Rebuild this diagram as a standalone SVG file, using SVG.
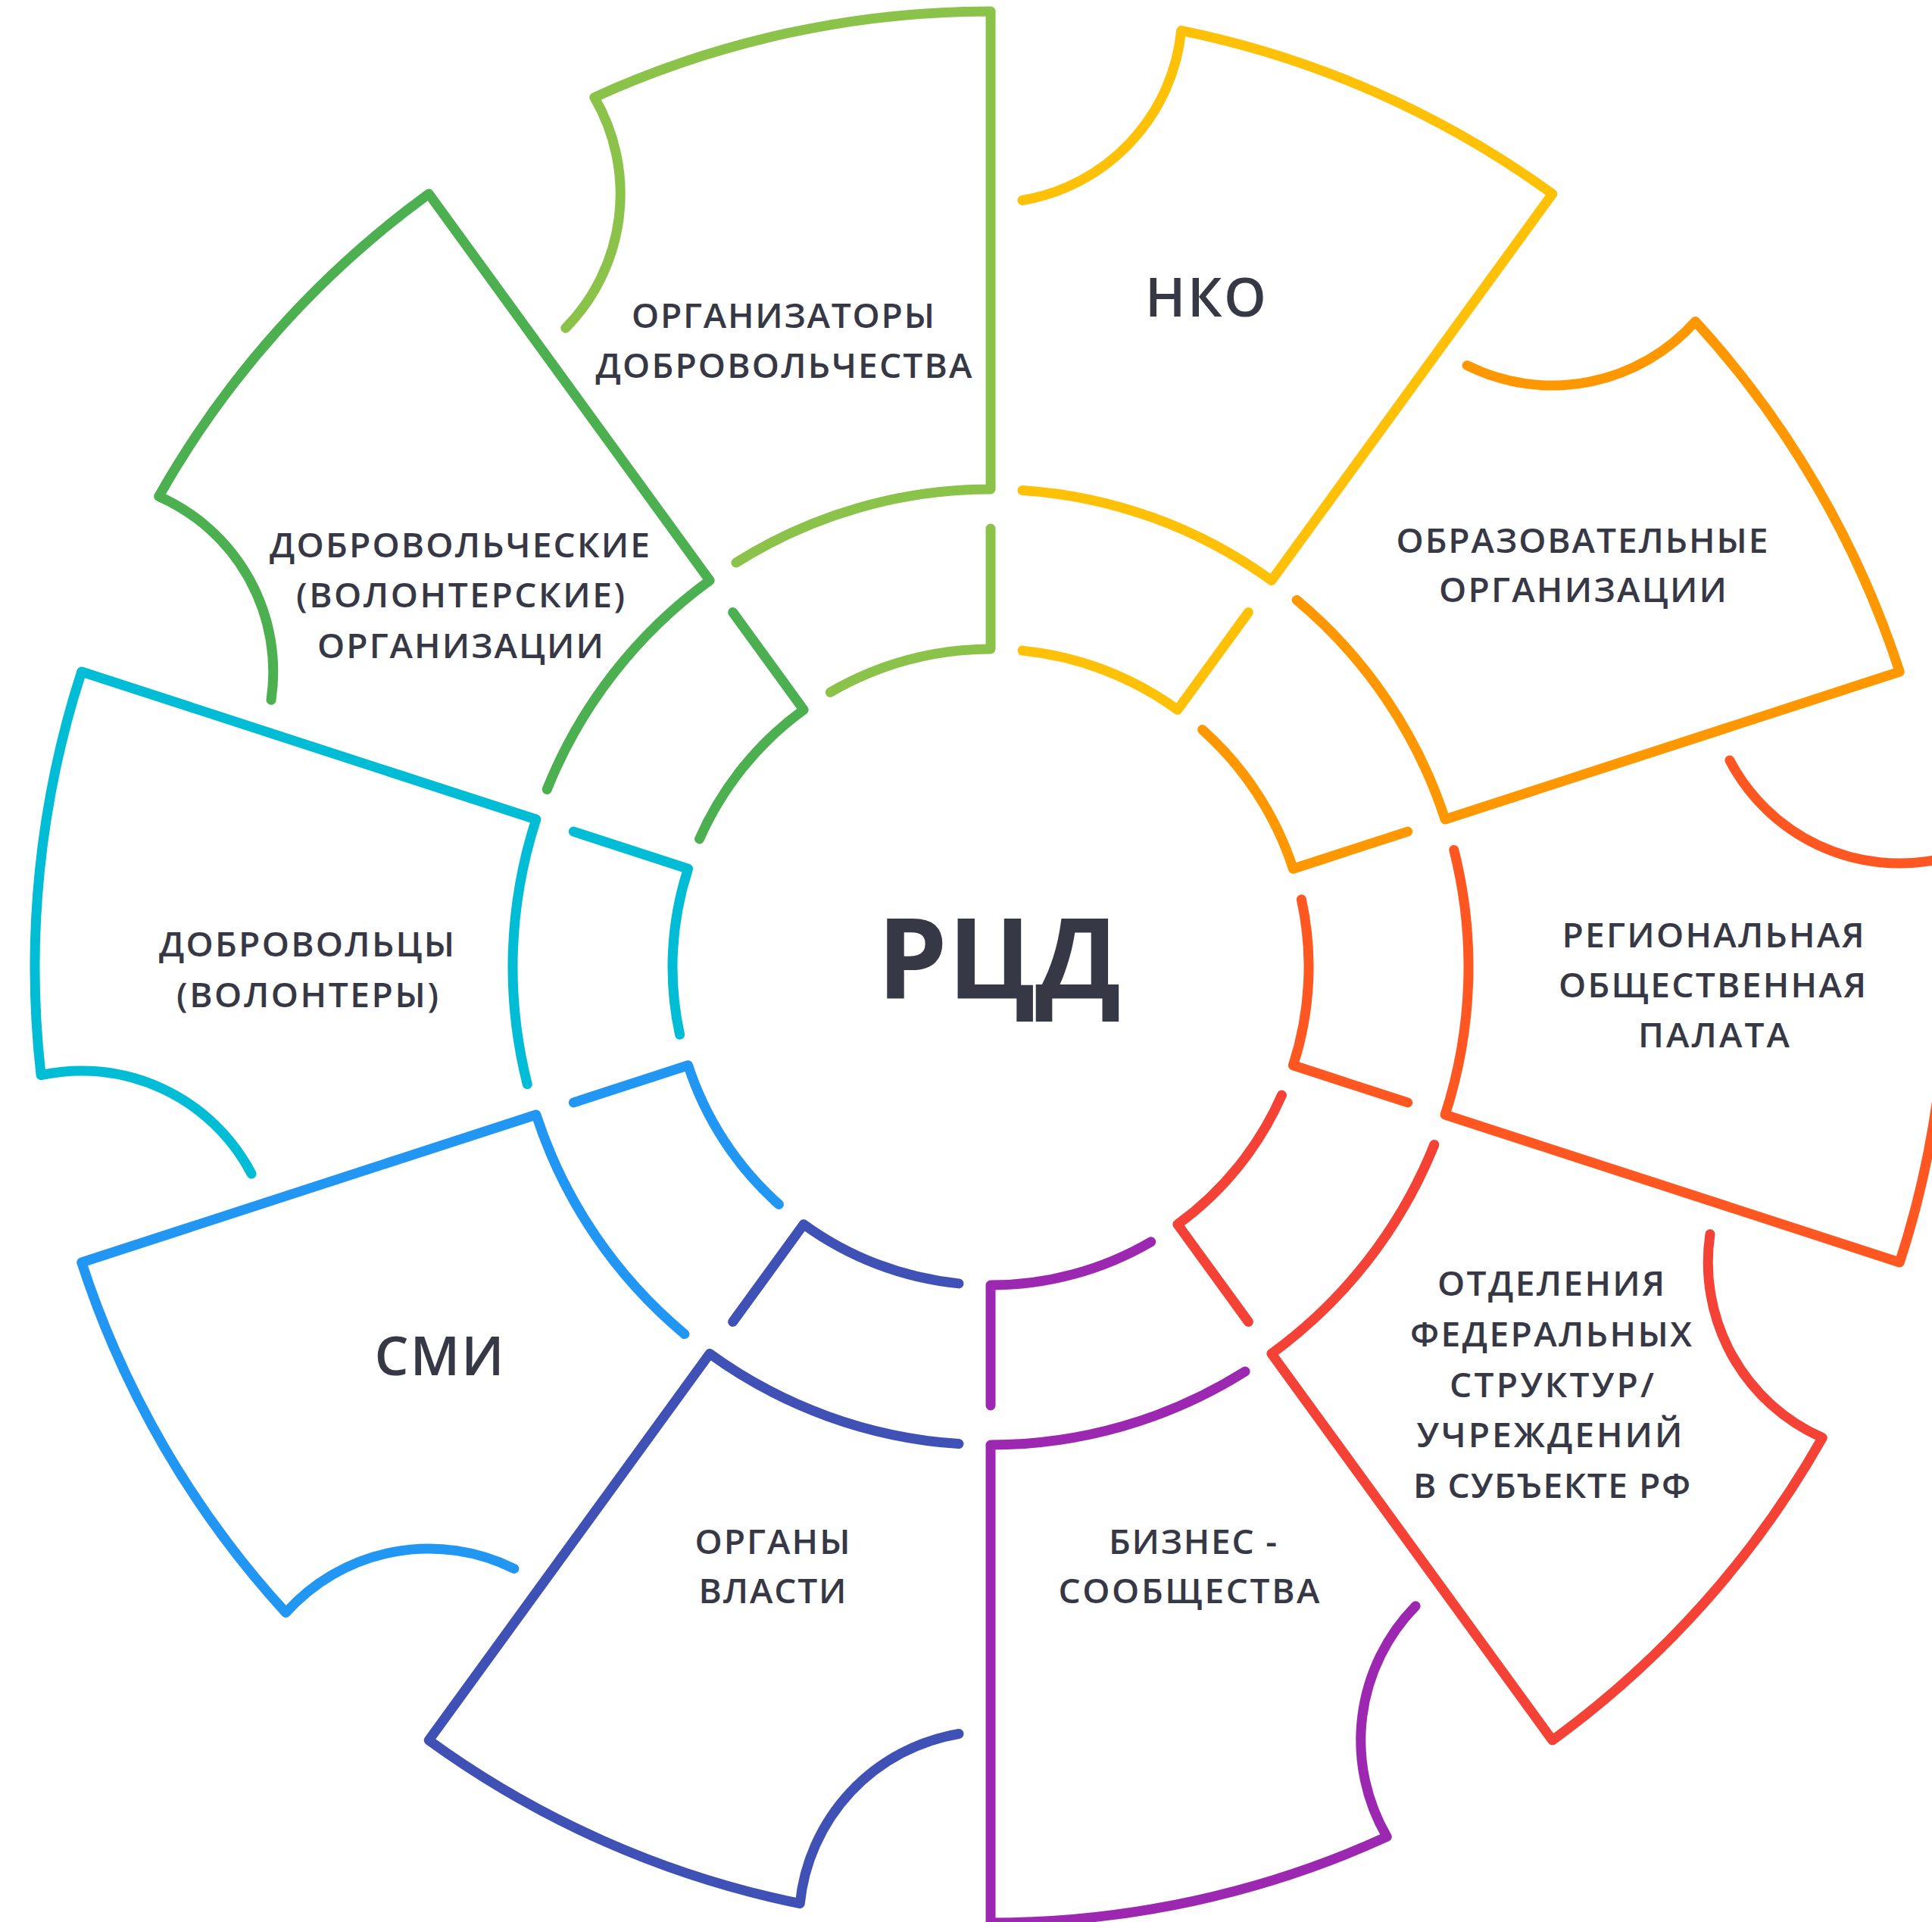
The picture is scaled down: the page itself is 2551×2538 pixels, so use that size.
<svg xmlns="http://www.w3.org/2000/svg" width="2551" height="2538" viewBox="0 0 2551 2538">
<style>
.s{fill:none;stroke-width:13;stroke-linecap:round;stroke-linejoin:round}
.lg{stroke:#8BC34A}.dg{stroke:#4CAF50}.cy{stroke:#00BCD4}.bl{stroke:#2196F3}.in{stroke:#3F51B5}
.pu{stroke:#9C27B0}.rd{stroke:#F44336}.do{stroke:#FF5722}.or{stroke:#FF9800}.am{stroke:#FFC107}
text{font-family:"Open Sans","Noto Sans","Liberation Sans",sans-serif;fill:#363845;text-anchor:middle}
.t{font-size:46px;font-weight:600}
.b{font-size:71px;font-weight:600}
.c{font-size:148px;font-weight:700}
</style>
<rect width="2551" height="2538" fill="#FFFFFF"/>
<g id="node-organizers">
<path class="s lg" d="M1308,698 L1308,857 A420,420 0 0 0 1096.35,914.22"/>
<path class="s lg" d="M971.94,742.93 A631,631 0 0 1 1308,646 L1308,15 A1262,1262 0 0 0 784.78,128.58 A253,253 0 0 1 746.81,433.19"/>
<text class="t" x="1034" y="433" textLength="400" lengthAdjust="spacing">ОРГАНИЗАТОРЫ</text>
<text class="t" x="1035" y="499" textLength="497" lengthAdjust="spacing">ДОБРОВОЛЬЧЕСТВА</text>
</g>
<g id="node-volunteer-orgs">
<path class="s dg" d="M967.67,808.58 L1061.13,937.21 A420,420 0 0 0 923.54,1107.91"/>
<path class="s dg" d="M722.2,1042.46 A631,631 0 0 1 937.11,766.51 L566.2,256.02 A1262,1262 0 0 0 209.68,655.45 A253,253 0 0 1 358.02,924.2"/>
<text class="t" x="607" y="736" textLength="502" lengthAdjust="spacing">ДОБРОВОЛЬЧЕСКИЕ</text>
<text class="t" x="608" y="802" textLength="434" lengthAdjust="spacing">(ВОЛОНТЕРСКИЕ)</text>
<text class="t" x="608" y="869" textLength="378" lengthAdjust="spacing">ОРГАНИЗАЦИИ</text>
</g>
<g id="node-volunteers">
<path class="s cy" d="M757.34,1098.08 L908.56,1147.21 A420,420 0 0 0 897.57,1366.19"/>
<path class="s cy" d="M696.22,1431.58 A631,631 0 0 1 707.88,1082.01 L107.77,887.02 A1262,1262 0 0 0 54.1,1419.73 A253,253 0 0 1 332.08,1549.96"/>
<text class="t" x="405" y="1263" textLength="390" lengthAdjust="spacing">ДОБРОВОЛЬЦЫ</text>
<text class="t" x="406" y="1330" textLength="346" lengthAdjust="spacing">(ВОЛОНТЕРЫ)</text>
</g>
<g id="node-media">
<path class="s bl" d="M757.34,1455.92 L908.56,1406.79 A420,420 0 0 0 1028.38,1590.4"/>
<path class="s bl" d="M903.92,1761.65 A631,631 0 0 1 707.88,1471.99 L107.77,1666.98 A1262,1262 0 0 0 377.47,2129.5 A253,253 0 0 1 678.89,2071.46"/>
<text class="b" x="580" y="1816" textLength="171" lengthAdjust="spacing">СМИ</text>
</g>
<g id="node-authorities">
<path class="s in" d="M967.67,1745.42 L1061.13,1616.79 A420,420 0 0 0 1265.99,1694.89"/>
<path class="s in" d="M1265.96,1906.6 A631,631 0 0 1 937.11,1787.49 L566.2,2297.98 A1262,1262 0 0 0 1056.27,2513.64 A253,253 0 0 1 1266.03,2289.51"/>
<text class="t" x="1020" y="2052" textLength="205" lengthAdjust="spacing">ОРГАНЫ</text>
<text class="t" x="1020" y="2117" textLength="195" lengthAdjust="spacing">ВЛАСТИ</text>
</g>
<g id="node-business">
<path class="s pu" d="M1308,1856 L1308,1697 A420,420 0 0 0 1519.65,1639.78"/>
<path class="s pu" d="M1644.06,1811.07 A631,631 0 0 1 1308,1908 L1308,2539 A1262,1262 0 0 0 1831.22,2425.42 A253,253 0 0 1 1869.19,2120.81"/>
<text class="t" x="1575" y="2052" textLength="222" lengthAdjust="spacing">БИЗНЕС -</text>
<text class="t" x="1570" y="2117" textLength="345" lengthAdjust="spacing">СООБЩЕСТВА</text>
</g>
<g id="node-federal">
<path class="s rd" d="M1648.33,1745.42 L1554.87,1616.79 A420,420 0 0 0 1692.46,1446.09"/>
<path class="s rd" d="M1893.8,1511.54 A631,631 0 0 1 1678.89,1787.49 L2049.8,2297.98 A1262,1262 0 0 0 2406.32,1898.55 A253,253 0 0 1 2257.98,1629.8"/>
<text class="t" x="2048" y="1711" textLength="300" lengthAdjust="spacing">ОТДЕЛЕНИЯ</text>
<text class="t" x="2048" y="1778" textLength="372" lengthAdjust="spacing">ФЕДЕРАЛЬНЫХ</text>
<text class="t" x="2049" y="1845" textLength="270" lengthAdjust="spacing">СТРУКТУР/</text>
<text class="t" x="2046" y="1911" textLength="351" lengthAdjust="spacing">УЧРЕЖДЕНИЙ</text>
<text class="t" x="2049" y="1978" textLength="366" lengthAdjust="spacing">В СУБЪЕКТЕ РФ</text>
</g>
<g id="node-chamber">
<path class="s do" d="M1858.66,1455.92 L1707.44,1406.79 A420,420 0 0 0 1718.43,1187.81"/>
<path class="s do" d="M1919.78,1122.42 A631,631 0 0 1 1908.12,1471.99 L2508.23,1666.98 A1262,1262 0 0 0 2561.9,1134.27 A253,253 0 0 1 2283.92,1004.04"/>
<text class="t" x="2262" y="1251" textLength="399" lengthAdjust="spacing">РЕГИОНАЛЬНАЯ</text>
<text class="t" x="2261" y="1317" textLength="406" lengthAdjust="spacing">ОБЩЕСТВЕННАЯ</text>
<text class="t" x="2263" y="1383" textLength="200" lengthAdjust="spacing">ПАЛАТА</text>
</g>
<g id="node-education">
<path class="s or" d="M1858.66,1098.08 L1707.44,1147.21 A420,420 0 0 0 1587.62,963.6"/>
<path class="s or" d="M1712.08,792.35 A631,631 0 0 1 1908.12,1082.01 L2508.23,887.02 A1262,1262 0 0 0 2238.53,424.5 A253,253 0 0 1 1937.11,482.54"/>
<text class="t" x="2089" y="730" textLength="491" lengthAdjust="spacing">ОБРАЗОВАТЕЛЬНЫЕ</text>
<text class="t" x="2090" y="795" textLength="380" lengthAdjust="spacing">ОРГАНИЗАЦИИ</text>
</g>
<g id="node-nko">
<path class="s am" d="M1648.33,808.58 L1554.87,937.21 A420,420 0 0 0 1350.01,859.11"/>
<path class="s am" d="M1350.04,647.4 A631,631 0 0 1 1678.89,766.51 L2049.8,256.02 A1262,1262 0 0 0 1559.73,40.36 A253,253 0 0 1 1349.97,264.49"/>
<text class="b" x="1592" y="418" textLength="160" lengthAdjust="spacing">НКО</text>
</g>
<g id="node-center">
<text class="c" x="1319" y="1318" textLength="322" lengthAdjust="spacing">РЦД</text>
</g>
</svg>
